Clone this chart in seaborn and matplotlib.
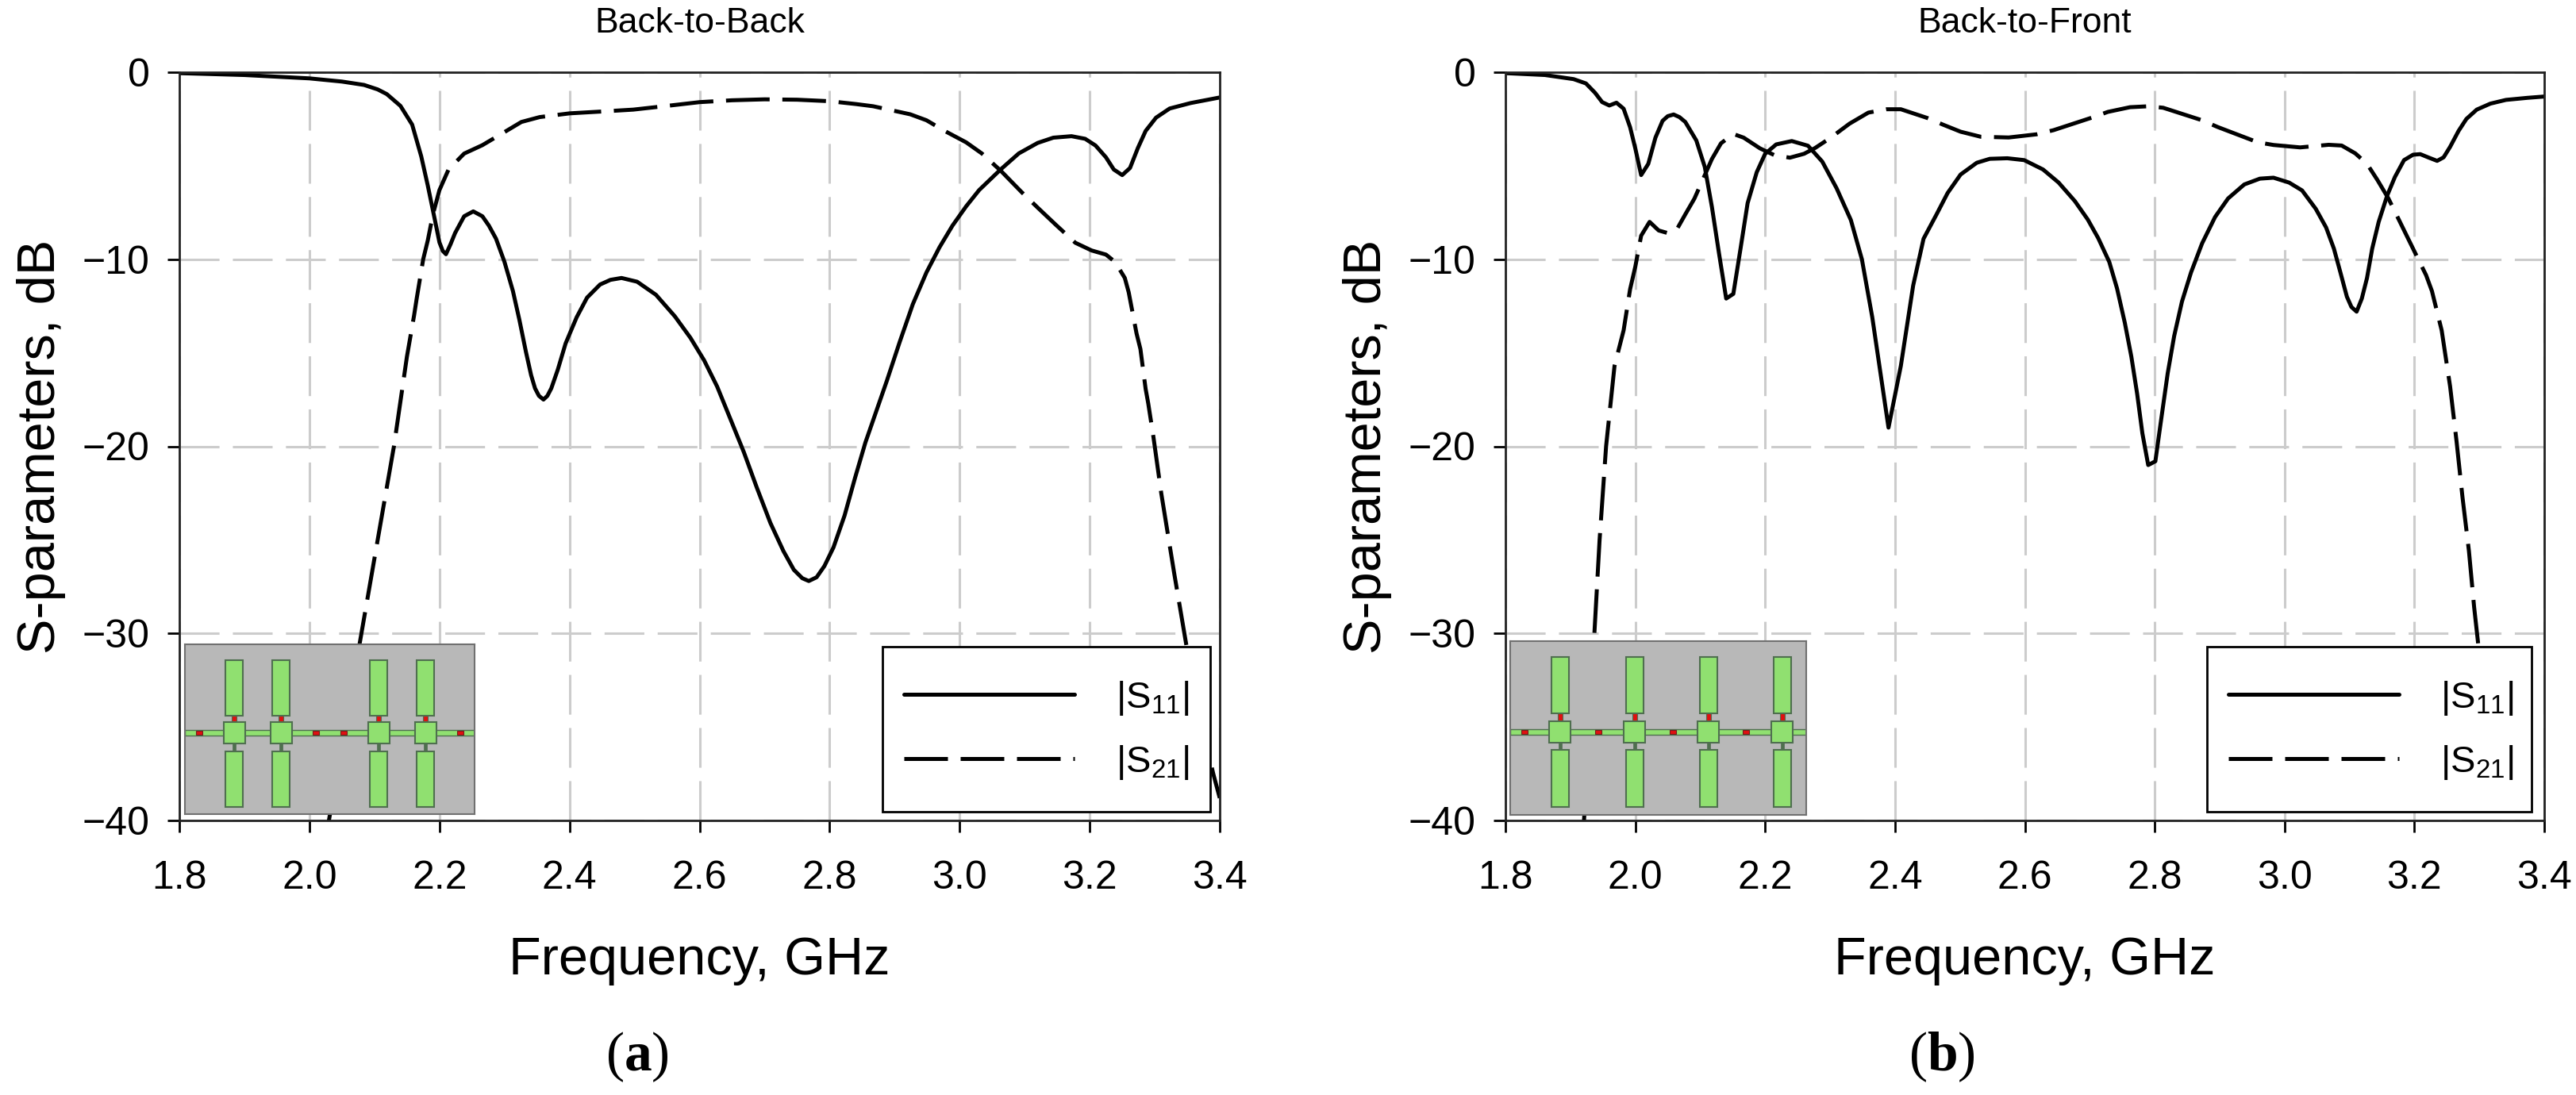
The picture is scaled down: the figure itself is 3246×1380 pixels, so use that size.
import numpy as np
import pandas as pd
import matplotlib
matplotlib.use('Agg')
import matplotlib.pyplot as plt
from matplotlib.patches import Rectangle
import seaborn as sns

# values (GHz, dB)
a_s11_f = [1.8, 1.9, 2.0, 2.05, 2.084, 2.105, 2.119, 2.14, 2.158, 2.172, 2.182, 2.193, 2.2, 2.205, 2.21, 2.217, 2.224,
           2.238, 2.252, 2.266, 2.276, 2.287, 2.3, 2.313, 2.323, 2.333, 2.341, 2.347, 2.353, 2.36, 2.366, 2.372, 2.382,
           2.394, 2.411, 2.427, 2.447, 2.463, 2.48, 2.504, 2.533, 2.562, 2.586, 2.607, 2.627, 2.647, 2.668, 2.688,
           2.709, 2.729, 2.745, 2.758, 2.768, 2.78, 2.792, 2.806, 2.823, 2.839, 2.855, 2.872, 2.888, 2.908, 2.928,
           2.949, 2.969, 2.989, 3.01, 3.03, 3.063, 3.091, 3.12, 3.144, 3.172, 3.193, 3.209, 3.225, 3.237, 3.25, 3.262,
           3.274, 3.286, 3.302, 3.323, 3.355, 3.4]
a_s11_db = [-0.05, -0.15, -0.33, -0.5, -0.68, -0.92, -1.17, -1.8, -2.8, -4.5, -6.05, -7.9, -9.1, -9.55, -9.73, -9.2, -8.6,
            -7.7, -7.44, -7.7, -8.2, -8.9, -10.14, -11.7, -13.25, -14.95, -16.2, -16.9, -17.3, -17.5, -17.3, -16.9, -15.9,
            -14.5, -13.1, -12.05, -11.35, -11.1, -11.0, -11.2, -11.9, -13.05, -14.2, -15.4, -16.8, -18.5, -20.3, -22.2,
            -24.1, -25.6, -26.6, -27.05, -27.2, -27, -26.4, -25.4, -23.7, -21.7, -19.8, -18.1, -16.5, -14.4, -12.4,
            -10.7, -9.36, -8.2, -7.17, -6.3, -5.2, -4.34, -3.78, -3.5, -3.42, -3.56, -3.92, -4.55, -5.2, -5.5, -5.12,
            -4.06, -3.14, -2.43, -1.94, -1.65, -1.35]
a_s21_f = [2.0, 2.03, 2.05, 2.08, 2.105, 2.13, 2.15, 2.161, 2.165, 2.175, 2.182, 2.19, 2.2, 2.214, 2.238, 2.266, 2.3, 2.326,
           2.354, 2.4, 2.45, 2.498, 2.55, 2.6, 2.65, 2.7, 2.75, 2.8, 2.84, 2.867, 2.924, 2.949, 2.977, 3.01, 3.034,
           3.063, 3.095, 3.12, 3.148, 3.178, 3.203, 3.225, 3.239, 3.254, 3.26, 3.272, 3.278, 3.286, 3.29, 3.298,
           3.31, 3.33, 3.349, 3.37, 3.39, 3.4]
a_s21_db = [-46, -40, -36, -30, -25, -20, -15.2, -13, -12.1, -10, -9, -7.6, -6.3, -5.2, -4.35, -3.9, -3.2, -2.66,
            -2.4, -2.2, -2.1, -2, -1.8, -1.6, -1.5, -1.45, -1.47, -1.55, -1.7, -1.82, -2.25, -2.57, -3.14, -3.75, -4.34,
            -5.26, -6.4, -7.24, -8.16, -9.12, -9.53, -9.75, -10.14, -11, -11.77, -13.96, -14.8, -16.93, -17.7, -19.5,
            -22.5, -26.8, -30.7, -34.5, -37.5, -38.8]

b_s11_f = [1.8, 1.861, 1.905, 1.924, 1.938, 1.949, 1.96, 1.971, 1.982, 1.992, 2.0, 2.009, 2.02, 2.031, 2.042, 2.05, 2.059,
           2.068, 2.077, 2.094, 2.107, 2.118, 2.129, 2.14, 2.151, 2.162, 2.173, 2.187, 2.2, 2.217, 2.241, 2.266, 2.288,
           2.31, 2.332, 2.349, 2.365, 2.376, 2.39, 2.409, 2.428, 2.444, 2.464, 2.481, 2.501, 2.526, 2.546, 2.573,
           2.599, 2.628, 2.652, 2.677, 2.697, 2.713, 2.73, 2.742, 2.754, 2.764, 2.773, 2.781, 2.79, 2.801, 2.809,
           2.82, 2.83, 2.842, 2.856, 2.873, 2.893, 2.913, 2.938, 2.962, 2.983, 3.007, 3.027, 3.048, 3.064, 3.076,
           3.086, 3.096, 3.103, 3.111, 3.119, 3.127, 3.135, 3.145, 3.158, 3.17, 3.184, 3.198, 3.209, 3.221, 3.235,
           3.245, 3.255, 3.268, 3.28, 3.296, 3.317, 3.341, 3.374, 3.4]
b_s11_db = [-0.05, -0.15, -0.37, -0.6, -1.1, -1.6, -1.78, -1.63, -1.95, -2.94, -4.07, -5.5, -4.9, -3.5, -2.6, -2.35, -2.26,
            -2.4, -2.66, -3.65, -5.06, -7.2, -9.7, -12.1, -11.85, -9.45, -7, -5.35, -4.36, -3.86, -3.68, -3.93, -4.78,
            -6.2, -7.9, -10, -13.1, -15.7, -19, -15.7, -11.4, -8.9, -7.6, -6.46, -5.47, -4.84, -4.63, -4.6,
            -4.7, -5.2, -5.9, -6.89, -7.88, -8.87, -10.14, -11.56, -13.4, -15.2, -17.2, -19.3, -21.0, -20.8, -18.8,
            -16.1, -14.1, -12.26, -10.7, -9.15, -7.74, -6.75, -6.0, -5.69, -5.64, -5.9, -6.32, -7.3, -8.3, -9.43,
            -10.7, -12, -12.55, -12.8, -12.1, -11, -9.43, -8.0, -6.6, -5.6, -4.7, -4.41, -4.38, -4.55, -4.74,
            -4.55, -3.99, -3.14, -2.5, -2.0, -1.68, -1.48, -1.37, -1.3]
b_s21_f = [1.91, 1.921, 1.928, 1.937, 1.945, 1.955, 1.968, 1.982, 1.992, 2.0, 2.009, 2.022, 2.036, 2.05, 2.064, 2.077,
           2.091, 2.118, 2.132, 2.151, 2.167, 2.192, 2.214, 2.238, 2.26, 2.277, 2.301, 2.33, 2.359, 2.387, 2.409, 2.45,
           2.473, 2.501, 2.532, 2.575, 2.618, 2.644, 2.703, 2.728, 2.762, 2.791, 2.813, 2.873, 2.897, 2.959, 2.983,
           3.024, 3.046, 3.068, 3.088, 3.109, 3.127, 3.143, 3.16, 3.176, 3.188, 3.202, 3.218, 3.227, 3.242, 3.255,
           3.265, 3.274, 3.284, 3.292, 3.299, 3.31, 3.32, 3.33]
b_s21_db = [-45, -40, -36, -30, -25, -20, -15.7, -13.8, -11.6, -10.4, -8.74, -8, -8.46, -8.6, -8.4, -7.6,
            -6.76, -4.64, -3.8, -3.3, -3.5, -4.07, -4.43, -4.57, -4.36, -4.05, -3.5, -2.75, -2.16, -1.98, -1.98, -2.45,
            -2.79, -3.18, -3.45, -3.49, -3.32, -3.1, -2.43, -2.12, -1.87, -1.82, -1.9, -2.57, -2.93, -3.75, -3.89,
            -4.02, -3.95, -3.88, -3.92, -4.34, -4.9, -5.76, -6.75, -7.88, -8.73, -9.72, -10.85, -11.7, -13.8, -16.8,
            -19.76, -22.7, -25.6, -28.6, -30.8, -35, -39, -43]

x_ticks = [1.8, 2.0, 2.2, 2.4, 2.6, 2.8, 3.0, 3.2, 3.4]
y_ticks = [0, -10, -20, -30, -40]
W, H = 3246, 1380

sns.set_theme(style='ticks')
plt.rcParams['font.family'] = ['Liberation Sans', 'DejaVu Sans']
plt.rcParams['mathtext.fontset'] = 'custom'
plt.rcParams['mathtext.bf'] = 'Liberation Serif:bold'
plt.rcParams['mathtext.default'] = 'regular'


def px_axes(fig, x0, y0, x1, y1):
    # rectangle given in image pixels, measured from the top left
    return fig.add_axes([x0 / W, 1 - y1 / H, (x1 - x0) / W, (y1 - y0) / H])


def draw_chip(fig, box, centers, reds, stub_top, stub_bot, cy):
    # small layout picture sitting in the corner of each panel
    x0, y0, x1, y1 = box
    ax = px_axes(fig, x0, y0, x1, y1)
    ax.set_zorder(6)
    ax.set_xlim(0, x1 - x0)
    ax.set_ylim(y1 - y0, 0)
    ax.set_xticks([])
    ax.set_yticks([])
    ax.set_facecolor('#b8b8b8')
    for s in ax.spines.values():
        s.set_color('#707070')
        s.set_linewidth(1.5)
    green = '#90e070'
    edge = '#4f6f4f'
    ax.add_patch(Rectangle((0, cy - 3.5), x1 - x0, 7, fc=green, ec=edge, lw=1))
    for c in centers:
        ax.add_patch(Rectangle((c - 2, stub_bot[0] - 12), 4, 12, fc=edge, ec=edge, lw=0.5))
        ax.add_patch(Rectangle((c - 3, stub_top[1]), 6, cy - 13 - stub_top[1], fc='#e01010', ec=edge, lw=0.8))
        ax.add_patch(Rectangle((c - 11, stub_top[0]), 22, stub_top[1] - stub_top[0], fc=green, ec=edge, lw=1.5))
        ax.add_patch(Rectangle((c - 11, stub_bot[0]), 22, stub_bot[1] - stub_bot[0], fc=green, ec=edge, lw=1.5))
        ax.add_patch(Rectangle((c - 13.5, cy - 13.5), 27, 27, fc=green, ec=edge, lw=1.5))
    for r in reds:
        ax.add_patch(Rectangle((r - 4, cy - 2.5), 8, 5, fc='#e01010', ec='#702020', lw=0.8))


def draw_panel(fig, box, title, s11_f, s11_db, s21_f, s21_db, legend_box):
    x0, y0, x1, y1 = box
    ax = px_axes(fig, x0, y0, x1, y1)
    s11 = pd.DataFrame({'f': s11_f, 'db': s11_db})
    s21 = pd.DataFrame({'f': s21_f, 'db': s21_db})
    sns.lineplot(data=s11, x='f', y='db', color='black', lw=3.6, sort=False, errorbar=None, ax=ax,
                 label='|S$_{11}$|')
    sns.lineplot(data=s21, x='f', y='db', color='black', lw=3.6, sort=False, errorbar=None, ax=ax,
                 label='|S$_{21}$|')
    ax.lines[1].set_linestyle((0, (11, 3.2)))
    ax.set_xlim(1.8, 3.4)
    ax.set_ylim(-40, 0)
    ax.set_xticks(x_ticks)
    ax.set_xticklabels(['%.1f' % v for v in x_ticks])
    ax.set_yticks(y_ticks)
    ax.grid(True, color='#cccccc', lw=2.2, dashes=(16.4, 5.5))
    ax.set_axisbelow(True)
    ax.tick_params(axis='both', labelsize=36, length=11, width=2, color='black', labelcolor='black')
    ax.tick_params(axis='x', pad=25)
    ax.tick_params(axis='y', pad=16)
    for s in ax.spines.values():
        s.set_visible(True)
        s.set_color('#222222')
        s.set_linewidth(2)
    ax.set_title(title, fontsize=32, color='black', pad=36)
    ax.set_xlabel('Frequency, GHz', fontsize=48, color='black', labelpad=36)
    ax.set_ylabel('S-parameters, dB', fontsize=48, color='black', labelpad=15)
    # frame is its own rectangle, the legend only holds the handles and labels
    lx0, ly0, lx1, ly1 = legend_box
    ax.add_patch(Rectangle((lx0 / W, 1 - ly1 / H), (lx1 - lx0) / W, (ly1 - ly0) / H, transform=fig.transFigure,
                           fc='white', ec='black', lw=2, zorder=5, clip_on=False))
    leg = ax.legend(loc='lower left', bbox_to_anchor=((lx0 + 27 - x0) / (x1 - x0), (y1 - (ly1 - 38)) / (y1 - y0)),
                    borderaxespad=0, borderpad=0, fontsize=34, frameon=False, handlelength=4.55, handletextpad=1.1,
                    labelspacing=0.7, labelcolor='black')
    leg.set_zorder(7)
    return ax


fig = plt.figure(figsize=(W / 100, H / 100), dpi=100, facecolor='white')

draw_panel(fig, (226, 91, 1537, 1034), 'Back-to-Back', a_s11_f, a_s11_db, a_s21_f, a_s21_db, (1112, 815, 1525, 1023))
draw_panel(fig, (1897, 91, 3206, 1034), 'Back-to-Front', b_s11_f, b_s11_db, b_s21_f, b_s21_db, (2781, 815, 3190, 1023))

draw_chip(fig, (233, 812, 598, 1026), [62, 121, 244, 303], [18, 165, 200, 347], (20, 90), (135, 205), 111)
draw_chip(fig, (1903, 808, 2276, 1027), [63, 157, 250, 343], [18, 111, 205, 297], (20, 91), (137, 209), 114)

fig.text(803 / W, 1 - 1332 / H, r'($\mathbf{a}$)', family='Liberation Serif', fontsize=50, color='black',
         ha='center', va='center')
fig.text(2447 / W, 1 - 1332 / H, r'($\mathbf{b}$)', family='Liberation Serif', fontsize=50, color='black',
         ha='center', va='center')

fig.savefig('out.png', dpi=100)
